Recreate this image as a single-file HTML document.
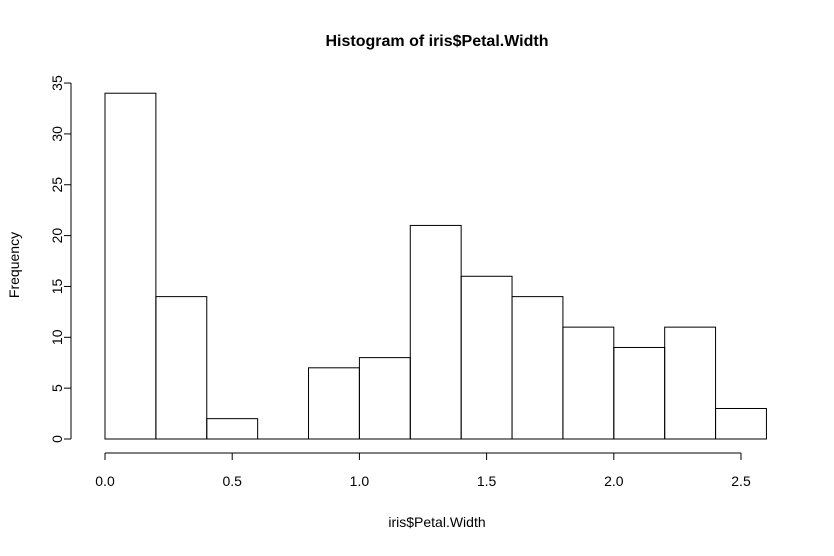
<!DOCTYPE html>
<html><head><meta charset="utf-8"><style>
html,body{margin:0;padding:0;background:#fff;}
svg text{font-family:"Liberation Sans",Arial,sans-serif;fill:#000;}
</style></head><body>
<svg id="chart" width="834" height="551" xmlns="http://www.w3.org/2000/svg">
<text x="437" y="46" text-anchor="middle" font-size="16" font-weight="bold">Histogram of iris$Petal.Width</text>
<text x="437" y="527" text-anchor="middle" font-size="14">iris$Petal.Width</text>
<text transform="translate(19,265) rotate(-90)" text-anchor="middle" font-size="14">Frequency</text>
<g id="bars"></g>
<g id="xaxis"></g>
<g id="yaxis"></g>
</svg>
<script>
const breaks = [0,0.2,0.4,0.6,0.8,1.0,1.2,1.4,1.6,1.8,2.0,2.2,2.4,2.6];
const counts = [34,14,2,0,7,8,21,16,14,11,9,11,3];
const xTicks = [0,0.5,1.0,1.5,2.0,2.5];
const xTickLabels = ["0.0","0.5","1.0","1.5","2.0","2.5"];
const yTicks = [0,5,10,15,20,25,30,35];
const yTickLabels = ["0","5","10","15","20","25","30","35"];
const NS="http://www.w3.org/2000/svg";
function xs(v){return 105+v*254.4;}
function ys(v){return 439-v*10.17;}
function mk(tag,attrs,parent){const e=document.createElementNS(NS,tag);for(const k in attrs)e.setAttribute(k,attrs[k]);parent.appendChild(e);return e;}
const bars=document.getElementById('bars');
counts.forEach((c,i)=>{
  let r;
  if(c===0){
    r=mk('line',{x1:xs(breaks[i]),x2:xs(breaks[i+1]),y1:ys(0),y2:ys(0),stroke:'#000','stroke-width':1},bars);
  } else {
    r=mk('rect',{x:xs(breaks[i]),y:ys(c),width:xs(breaks[i+1])-xs(breaks[i]),height:ys(0)-ys(c),fill:'none',stroke:'#000','stroke-width':1},bars);
  }
  
  
});
const xa=document.getElementById('xaxis');
mk('line',{x1:xs(xTicks[0]),x2:xs(xTicks[xTicks.length-1]),y1:453,y2:453,stroke:'#000'},xa);
xTicks.forEach((t,i)=>{
  mk('line',{x1:xs(t),x2:xs(t),y1:453,y2:460,stroke:'#000'},xa);
  const tx=mk('text',{x:xs(t),y:486,'text-anchor':'middle','font-size':14},xa);
  tx.textContent=xTickLabels[i];
  
  
});
const ya=document.getElementById('yaxis');
mk('line',{x1:71,x2:71,y1:ys(yTicks[0]),y2:ys(yTicks[yTicks.length-1]),stroke:'#000'},ya);
yTicks.forEach((t,i)=>{
  mk('line',{x1:64,x2:71,y1:ys(t),y2:ys(t),stroke:'#000'},ya);
  const tx=mk('text',{transform:`translate(62,${ys(t)}) rotate(-90)`,'text-anchor':'middle','font-size':14},ya);
  tx.textContent=yTickLabels[i];
  
  
});
</script>
</body></html>
